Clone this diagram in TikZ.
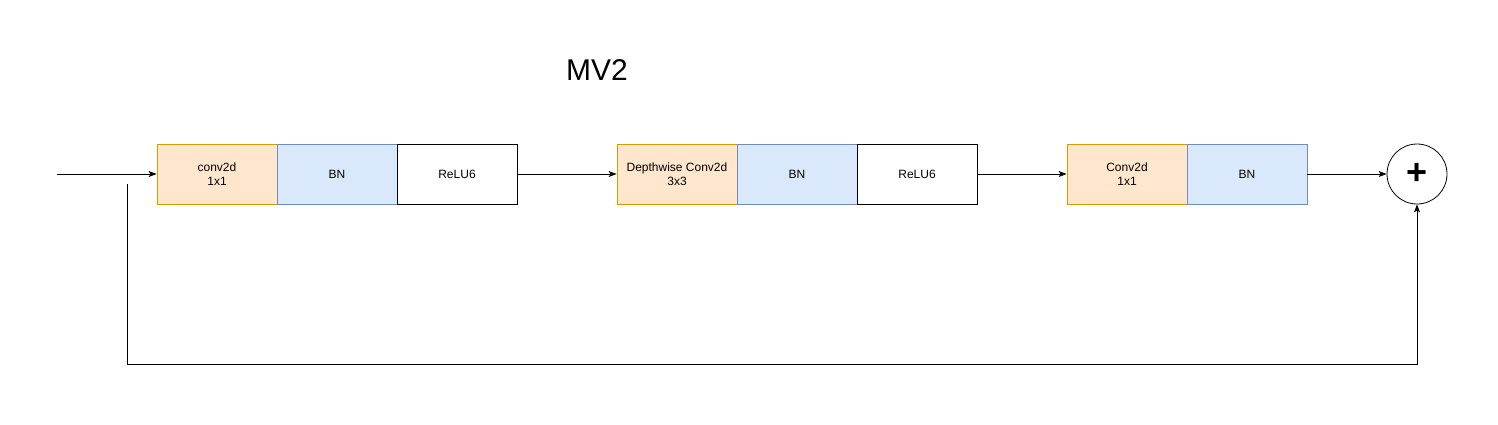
\documentclass[tikz,border=0pt]{standalone}
\usepackage{fontspec}
\setmainfont{Liberation Sans}
\usetikzlibrary{arrows.meta}
\definecolor{orfill}{HTML}{FFE6CC}
\definecolor{ordraw}{HTML}{D79B00}
\definecolor{blfill}{HTML}{DAE8FC}
\definecolor{bldraw}{HTML}{6C8EBF}
\begin{document}
\begin{tikzpicture}[x=1pt,y=-1pt,
  blk/.style={minimum width=120pt,minimum height=60pt,inner sep=0pt,font=\fontsize{12}{14}\selectfont,align=center,line width=0.8pt},
  conv/.style={blk,draw=ordraw,fill=orfill},
  bn/.style={blk,draw=bldraw,fill=blfill},
  relu/.style={blk,draw=black,fill=white},
  arr/.style={-{Stealth[length=8pt,width=6pt,inset=2pt]},line width=0.8pt},
  ln/.style={line width=0.8pt}]
\useasboundingbox (0,0) rectangle (1498,424);
\node[font=\fontsize{30}{34}\selectfont] (title) at (597,70) {MV2};
\node[conv] (c1) at (217,174) {conv2d\\1x1};
\node[bn] (b1) at (337,174) {BN};
\node[relu] (r1) at (457,174) {ReLU6};
\node[conv] (c2) at (677,174) {Depthwise Conv2d\\3x3};
\node[bn] (b2) at (797,174) {BN};
\node[relu] (r2) at (917,174) {ReLU6};
\node[conv] (c3) at (1127,174) {Conv2d\\1x1};
\node[bn] (b3) at (1247,174) {BN};
\node[circle,draw,line width=0.8pt,minimum size=60pt,inner sep=0pt,font=\fontsize{36}{38}\selectfont\bfseries] (add) at (1417,174) {+};
\coordinate (in) at (57,174);
\coordinate (s0) at (127,184);
\coordinate (s1) at (127,364);
\draw[arr] (in) -- (c1.west);
\draw[arr] (r1.east) -- (c2.west);
\draw[arr] (r2.east) -- (c3.west);
\draw[arr] (b3.east) -- (add.west);
\draw[arr] (s0) -- (s1) -| (add.south);
\end{tikzpicture}
\end{document}
